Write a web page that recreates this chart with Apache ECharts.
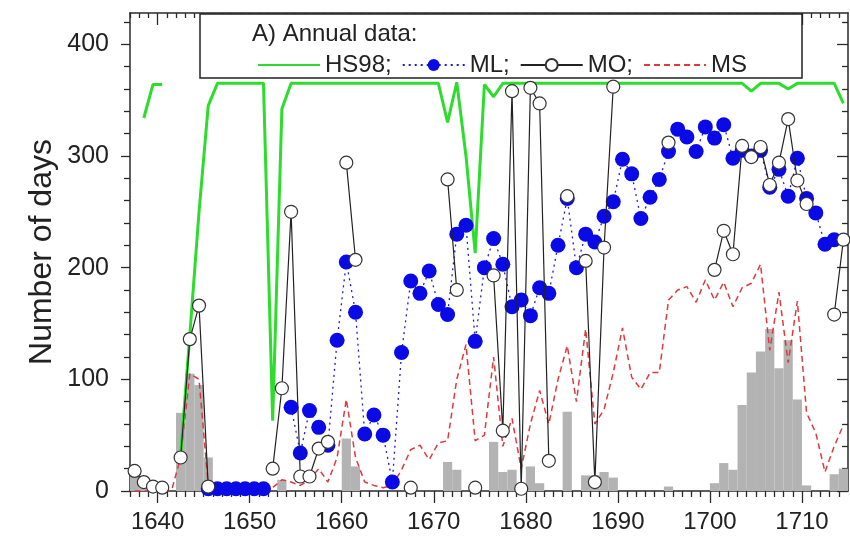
<!DOCTYPE html>
<html><head><meta charset="utf-8">
<script src="https://cdn.jsdelivr.net/npm/echarts@6/dist/echarts.min.js"></script>
<style>html,body{margin:0;padding:0;background:#fff}#c{width:850px;height:540px}</style>
</head><body><div id="c"></div>
<script>
// ---- data (one value per year, null = no data) ----
const years = [1637,1638,1639,1640,1641,1642,1643,1644,1645,1646,1647,1648,1649,1650,1651,1652,1653,1654,1655,1656,1657,1658,1659,1660,1661,1662,1663,1664,1665,1666,1667,1668,1669,1670,1671,1672,1673,1674,1675,1676,1677,1678,1679,1680,1681,1682,1683,1684,1685,1686,1687,1688,1689,1690,1691,1692,1693,1694,1695,1696,1697,1698,1699,1700,1701,1702,1703,1704,1705,1706,1707,1708,1709,1710,1711,1712,1713,1714];
const hs98 = [null,334,364,364,null,32,140,250,345,365,365,365,365,365,365,63,342,365,365,365,365,365,365,365,365,365,365,365,365,365,365,365,365,365,330,366,300,213,364,353,365,365,365,365,365,365,365,365,365,365,365,365,365,365,365,365,365,365,365,365,365,365,365,365,365,365,365,358,365,365,365,360,365,365,365,365,365,347];
const ml = [null,null,null,null,null,null,null,null,2,2,2,2,2,2,2,null,null,75,34,72,57,41,135,205,160,51,68,50,8,124,188,177,197,167,158,230,238,134,200,226,203,165,171,157,182,177,220,262,200,230,223,246,259,297,284,244,263,279,304,324,317,304,326,316,328,298,305,300,305,272,288,264,298,262,249,221,225,null];
const mo = [18,8,4,3,null,30,136,166,4,null,null,null,null,null,null,20,92,250,13,13,38,44,null,294,207,null,null,null,null,null,3,null,null,null,279,180,null,3,null,193,54,358,2,361,347,27,null,264,null,206,8,218,362,null,null,null,null,null,312,null,null,null,null,198,233,212,309,299,308,274,294,333,278,257,null,null,158,225];
const ms = [0,0,0,0,0,30,105,100,5,0,0,0,0,0,0,3,10,8,5,10,20,8,30,82,30,8,5,3,5,19,37,41,28,43,45,100,131,45,50,120,40,65,20,60,90,60,100,130,80,145,60,73,106,146,102,91,106,106,171,180,183,169,189,171,187,165,182,186,203,126,178,115,170,70,52,17,40,59];
const bars = [20,8,0,0,0,70,105,95,30,0,0,0,0,0,0,0,10,0,0,0,0,0,0,47,22,0,0,0,0,0,0,0,0,0,26,19,0,0,0,44,17,19,0,22,7,0,0,71,0,14,14,17,12,0,0,0,0,0,4,0,0,0,0,7,25,19,77,106,125,145,110,135,82,5,0,0,15,20];
const xMajorTicks = [1640,1650,1660,1670,1680,1690,1700,1710];
const xMinorTicks = [1637,1638,1639,1641,1642,1643,1644,1645,1646,1647,1648,1649,1651,1652,1653,1654,1655,1656,1657,1658,1659,1661,1662,1663,1664,1665,1666,1667,1668,1669,1671,1672,1673,1674,1675,1676,1677,1678,1679,1681,1682,1683,1684,1685,1686,1687,1688,1689,1691,1692,1693,1694,1695,1696,1697,1698,1699,1701,1702,1703,1704,1705,1706,1707,1708,1709,1711,1712,1713,1714];
const yMajorTicks = [0,100,200,300,400];
const yMinorTicks = [20,40,60,80,120,140,160,180,220,240,260,280,320,340,360,380,420];
const seriesNames = ['HS98','ML','MO','MS'];

// values are plotted at mid-year
const pts = arr => years.map((y, i) => [y + 0.5, arr[i]]);
const barData = years.map((y, i) => [y, bars[i]]);

const FONT = 'Liberation Sans, Arial, sans-serif';
const AX = '#2a2a2a';
const X0 = 1637, X1 = 1715, Y0 = 0, Y1 = 428;

function xAx(pos, ticks, len, inside, showLine, labels) {
  return {
    type: 'value', min: X0, max: X1, position: pos,
    axisLine: { show: showLine, onZero: false, lineStyle: { color: AX, width: 1.5 } },
    axisTick: { show: true, customValues: ticks, length: len, inside: inside, lineStyle: { color: AX, width: 1.3 } },
    axisLabel: labels ? { customValues: ticks, fontSize: 24, color: '#222', margin: 19, fontFamily: FONT, formatter: v => String(v) } : { show: false },
    splitLine: { show: false }
  };
}
function yAx(pos, ticks, len, inside, showLine, labels) {
  return {
    type: 'value', min: Y0, max: Y1, position: pos,
    axisLine: { show: showLine, onZero: false, lineStyle: { color: AX, width: 1.5 } },
    axisTick: { show: true, customValues: ticks, length: len, inside: inside, lineStyle: { color: AX, width: 1.3 } },
    axisLabel: labels ? { customValues: ticks, fontSize: 25, color: '#222', margin: 21, fontFamily: FONT, formatter: v => String(v) } : { show: false },
    splitLine: { show: false }
  };
}

const yLeft = yAx('left', yMajorTicks, 9, false, true, true);
yLeft.name = 'Number of days';
yLeft.nameLocation = 'middle';
yLeft.nameGap = 72;
yLeft.nameMoveOverlap = false;
yLeft.nameTextStyle = { fontSize: 32, color: '#222', fontFamily: FONT };

const chart = echarts.init(document.getElementById('c'), null, { renderer: 'canvas' });
chart.setOption({
  animation: false,
  backgroundColor: '#fff',
  grid: { left: 130, right: 2, top: 13, bottom: 49, containLabel: false },
  xAxis: [
    xAx('bottom', xMajorTicks, 12, false, true, true),
    xAx('bottom', xMinorTicks, 6, false, false, false),
    xAx('top', xMajorTicks, 12, true, true, false),
    xAx('top', xMinorTicks, 5, true, false, false)
  ],
  yAxis: [
    yLeft,
    yAx('left', yMinorTicks, 6, false, false, false),
    yAx('right', yMajorTicks, 11, true, true, false),
    yAx('right', yMinorTicks, 6, true, false, false)
  ],
  legend: {
    data: [
      { name: 'HS98', itemStyle: { opacity: 0 } },
      { name: 'ML' },
      { name: 'MO' },
      { name: 'MS', itemStyle: { opacity: 0 } }
    ],
    left: 252, top: 48, z: 30,
    itemWidth: 62, itemHeight: 15, itemGap: 10,
    formatter: n => n === 'MS' ? n : n + ';',
    textStyle: { fontSize: 24, color: '#222', fontFamily: FONT }
  },
  graphic: [
    { type: 'rect', z: 20, shape: { x: 200, y: 14, width: 602, height: 64 },
      style: { fill: '#fff', stroke: '#222', lineWidth: 1.5 } },
    { type: 'text', z: 31, x: 252, y: 22,
      style: { text: 'A) Annual data:', font: '24px Liberation Sans, Arial, sans-serif', fill: '#222' } }
  ],
  series: [
    { name: 'bars', type: 'custom', xAxisIndex: 0, yAxisIndex: 0, z: 1, data: barData,
      renderItem: (params, api) => {
        const y = api.value(0), v = api.value(1);
        const a = api.coord([y, v]), b = api.coord([y + 1, 0]);
        return { type: 'rect', shape: { x: a[0], y: a[1], width: b[0] - a[0], height: b[1] - a[1] },
                 style: { fill: '#b3b3b3' } };
      } },
    { name: 'MS', type: 'line', z: 2, data: pts(ms), symbol: 'none', connectNulls: false,
      lineStyle: { color: '#e0393b', width: 1.5, type: [6, 4] }, itemStyle: { color: '#e0393b' } },
    { name: 'HS98', type: 'line', z: 3, data: pts(hs98), symbol: 'none',
      lineStyle: { color: '#2ddc2d', width: 3 }, itemStyle: { color: '#2ddc2d' } },
    { name: 'ML', type: 'line', z: 4, data: pts(ml), symbol: 'circle', symbolSize: 15,
      lineStyle: { color: '#1a1ae0', width: 1.3, type: [2, 4] }, itemStyle: { color: '#0a0ae6', borderWidth: 0 } },
    { name: 'MO', type: 'line', z: 5, data: pts(mo), symbol: 'circle', symbolSize: 13,
      lineStyle: { color: '#222', width: 1.2 }, itemStyle: { color: '#fff', borderColor: '#333', borderWidth: 1.2 } }
  ]
});
</script></body></html>
